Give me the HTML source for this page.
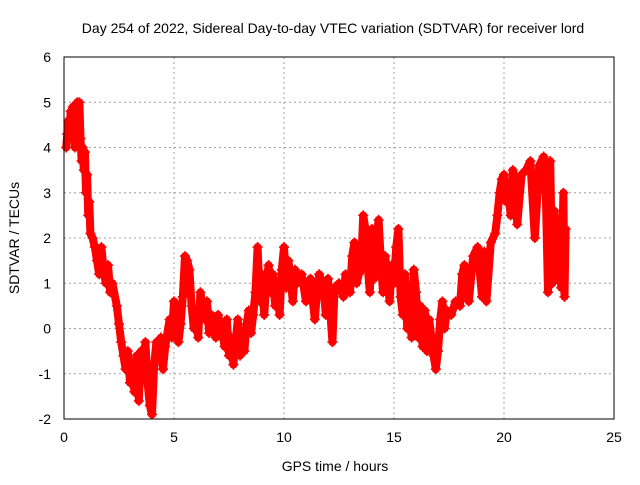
<!DOCTYPE html>
<html><head><meta charset="utf-8"><style>
body{margin:0;background:#fff}
svg text{font-family:"Liberation Sans",sans-serif;font-size:14px;fill:#000}
</style></head><body>
<svg width="640" height="480" id="c">
<text x="333" y="33" text-anchor="middle">Day 254 of 2022, Sidereal Day-to-day VTEC variation (SDTVAR) for receiver lord</text>
<text x="335" y="471" text-anchor="middle">GPS time / hours</text>
<text transform="translate(19,238) rotate(-90)" text-anchor="middle">SDTVAR / TECUs</text>
<g id="grid"></g><g id="ticks"></g><g id="marks"></g>
<rect x="64" y="57" width="550" height="362" fill="none" stroke="#000"/>
</svg>
<script>
const xTicks=[0,5,10,15,20,25];
const yTicks=[-2,-1,0,1,2,3,4,5,6];
const times=[0.1,0.15,0.2,0.25,0.3,0.35,0.4,0.45,0.5,0.55,0.6,0.65,0.7,0.75,0.8,0.85,0.9,0.95,1.0,1.05,1.1,1.15,1.2,1.3,1.4,1.5,1.6,1.7,1.8,1.9,2.0,2.1,2.2,2.4,2.5,2.6,2.7,2.8,2.9,3.0,3.1,3.2,3.3,3.4,3.5,3.6,3.7,3.8,3.9,4.0,4.1,4.2,4.3,4.4,4.5,4.6,4.8,4.9,5.0,5.1,5.2,5.3,5.4,5.5,5.6,5.7,5.8,5.9,6.0,6.1,6.2,6.3,6.4,6.5,6.6,6.7,6.8,6.9,7.0,7.2,7.3,7.4,7.5,7.6,7.7,7.8,7.9,8.0,8.1,8.2,8.3,8.4,8.5,8.6,8.7,8.8,8.9,9.0,9.1,9.2,9.3,9.4,9.5,9.6,9.7,9.8,9.9,10.0,10.1,10.2,10.3,10.4,10.5,10.6,10.8,11.0,11.2,11.4,11.5,11.6,11.8,11.9,12.0,12.2,12.3,12.5,12.7,12.8,13.0,13.1,13.2,13.3,13.4,13.5,13.6,13.7,13.8,13.9,14.0,14.1,14.2,14.3,14.4,14.5,14.6,14.7,14.8,14.9,15.0,15.1,15.2,15.3,15.4,15.5,15.6,15.7,15.8,15.9,16.0,16.1,16.2,16.3,16.4,16.5,16.6,16.7,16.8,16.9,17.0,17.1,17.2,17.3,17.4,17.6,17.8,18.0,18.1,18.2,18.3,18.4,18.6,18.8,19.0,19.1,19.2,19.4,19.6,19.7,19.8,19.9,20.0,20.1,20.2,20.3,20.4,20.5,20.6,20.8,21.0,21.2,21.4,21.6,21.8,21.9,22.0,22.1,22.2,22.3,22.4,22.5,22.6,22.7,22.75,22.8];
const values=[4.0,4.3,4.6,4.2,4.8,4.4,4.9,4.5,4.0,4.6,5.0,4.3,5.0,4.2,3.7,4.0,3.5,3.9,3.0,3.4,2.5,2.8,2.1,2.0,1.8,1.5,1.2,1.8,1.3,1.0,1.4,0.8,1.0,0.5,0.1,-0.3,-0.6,-0.9,-0.5,-1.2,-0.8,-1.4,-0.6,-1.6,-0.5,-0.9,-0.3,-1.2,-1.7,-1.9,-0.8,-0.3,-0.6,-0.2,-0.9,-0.4,0.2,-0.2,0.6,0.3,-0.3,0.1,0.7,1.6,1.5,1.3,0.5,0.0,0.3,-0.2,0.8,0.5,0.2,0.6,-0.1,0.3,0.0,-0.2,0.3,-0.1,-0.4,0.2,-0.6,-0.2,-0.8,-0.3,0.2,-0.6,-0.2,-0.5,0.1,0.4,-0.1,0.3,0.8,1.8,0.6,1.2,0.3,1.0,1.4,0.8,1.2,0.5,0.9,0.3,1.3,1.8,0.9,1.5,1.1,0.6,1.3,1.0,1.2,0.6,1.1,0.2,0.8,1.2,0.9,0.3,1.1,-0.3,0.9,1.0,0.7,1.2,0.8,1.6,1.9,1.0,1.2,1.3,2.5,2.2,1.4,0.8,2.2,1.1,2.0,2.4,1.5,0.8,1.6,1.2,0.6,1.4,1.0,1.8,2.2,0.7,0.3,1.2,0.0,0.9,-0.2,1.3,0.8,-0.2,0.5,-0.4,0.4,-0.5,0.2,-0.2,-0.6,-0.9,-0.5,0.2,0.6,0.0,0.4,0.3,0.6,0.5,1.2,1.4,0.9,0.6,1.6,1.8,0.7,1.7,0.6,1.9,2.1,2.5,3.0,3.3,3.4,2.8,3.1,2.5,3.5,3.3,2.3,3.4,3.5,3.7,2.0,3.6,3.8,3.0,0.8,3.7,1.0,2.6,1.1,2.4,0.9,3.0,0.7,2.2];
const NS='http://www.w3.org/2000/svg';
const X0=64,X1=614,Y0=419,Y1=57;
const xs=t=>X0+(t-0)/(25-0)*(X1-X0);
const ys=v=>Y0-(v+2)/(6+2)*(Y0-Y1);
function mk(tag,attrs,parent){const e=document.createElementNS(NS,tag);for(const k in attrs)e.setAttribute(k,attrs[k]);document.getElementById(parent).appendChild(e);return e;}
xTicks.forEach(t=>{
 const x=xs(t);
 if(t>0&&t<25){const g=mk('line',{x1:x,x2:x,y1:Y1,y2:Y0,stroke:'#a0a0a0','stroke-dasharray':'2,3'},'grid');
 
 }
 const l=mk('text',{x:x,y:442,'text-anchor':'middle'},'ticks');l.textContent=t;
 
 
});
yTicks.forEach(v=>{
 const y=ys(v);
 if(v>-2&&v<6){const g=mk('line',{x1:X0,x2:X1,y1:y,y2:y,stroke:'#a0a0a0','stroke-dasharray':'2,3'},'grid');
 
 }
 const l=mk('text',{x:51,y:y+5,'text-anchor':'end'},'ticks');l.textContent=v;
 
 
});
let d='';times.forEach((t,i)=>{d+=(i?'L':'M')+xs(t).toFixed(1)+','+ys(values[i]).toFixed(1);});
const pl=mk('path',{d:d,fill:'none',stroke:'#f00','stroke-width':8,'stroke-linejoin':'round','stroke-linecap':'round'},'marks');


times.forEach((t,i)=>{
 const x=xs(t),y=ys(values[i]);
 const p=mk('path',{d:`M${x-5},${y}h10M${x},${y-5}v10`,stroke:'#f00','stroke-width':1.6},'marks');
 
 
});
</script>
</body></html>
